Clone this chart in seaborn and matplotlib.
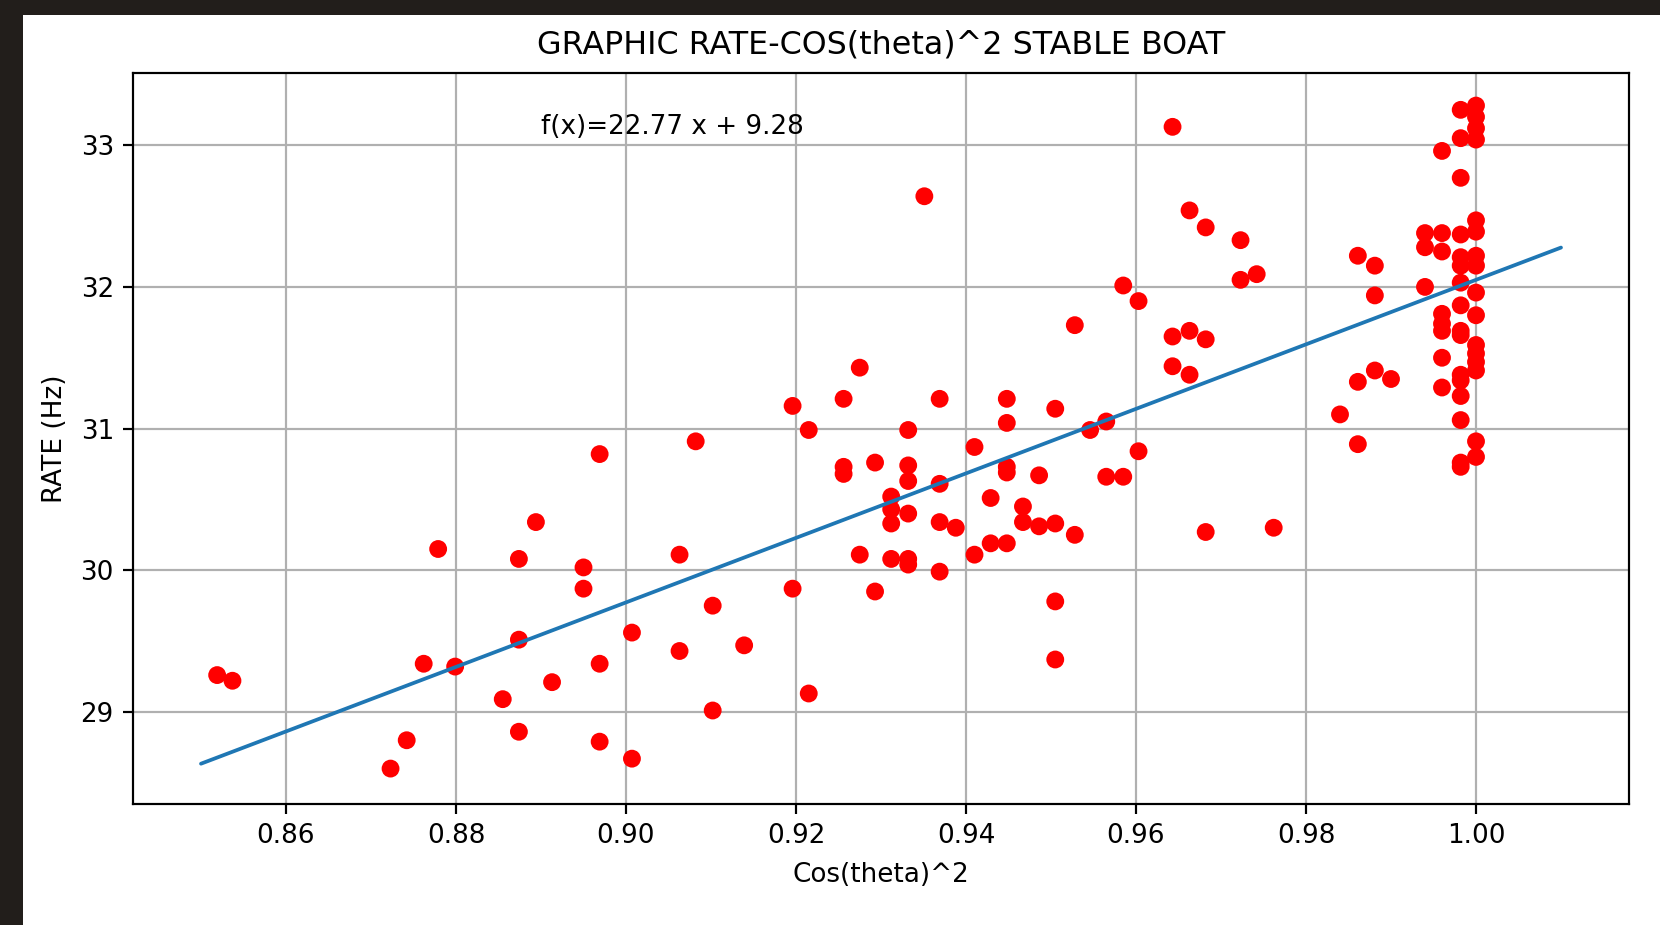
import numpy as np
import pandas as pd
import matplotlib
matplotlib.use("Agg")
import matplotlib.pyplot as plt
from matplotlib.patches import Rectangle
import seaborn as sns

# Measured points: cos^2(theta) against boat rate
cos2 = [
    0.8519, 0.8537, 0.8723, 0.8742, 0.8762, 0.8779, 0.8799, 0.8855, 0.8874, 0.8874,
    0.8874, 0.8894, 0.8913, 0.8950, 0.8950, 0.8969, 0.8969, 0.8969, 0.9007, 0.9007,
    0.9063, 0.9063, 0.9082, 0.9102, 0.9102, 0.9139, 0.9196, 0.9196, 0.9215, 0.9215,
    0.9256, 0.9256, 0.9256, 0.9275, 0.9275, 0.9293, 0.9293, 0.9312, 0.9312, 0.9312,
    0.9312, 0.9332, 0.9332, 0.9332, 0.9332, 0.9332, 0.9332, 0.9351, 0.9369, 0.9369,
    0.9369, 0.9369, 0.9388, 0.9410, 0.9410, 0.9429, 0.9429, 0.9448, 0.9448, 0.9448,
    0.9448, 0.9448, 0.9467, 0.9467, 0.9486, 0.9486, 0.9505, 0.9505, 0.9505, 0.9505,
    0.9528, 0.9528, 0.9546, 0.9565, 0.9565, 0.9585, 0.9585, 0.9603, 0.9603, 0.9643,
    0.9643, 0.9643, 0.9663, 0.9663, 0.9663, 0.9682, 0.9682, 0.9682, 0.9723, 0.9723,
    0.9742, 0.9762, 0.9840, 0.9861, 0.9861, 0.9861, 0.9881, 0.9881, 0.9881, 0.9900,
    0.9940, 0.9940, 0.9940,
    0.9960, 0.9960, 0.9960, 0.9960, 0.9960, 0.9960, 0.9960, 0.9960,
    0.9982, 0.9982, 0.9982, 0.9982, 0.9982, 0.9982, 0.9982, 0.9982,
    0.9982, 0.9982, 0.9982, 0.9982, 0.9982, 0.9982, 0.9982, 0.9982,
    1.0000, 1.0000, 1.0000, 1.0000, 1.0000, 1.0000, 1.0000, 1.0000,
    1.0000, 1.0000, 1.0000, 1.0000, 1.0000, 1.0000, 1.0000, 1.0000,
]
rate_hz = [
    29.26, 29.22, 28.60, 28.80, 29.34, 30.15, 29.32, 29.09, 30.08, 29.51,
    28.86, 30.34, 29.21, 30.02, 29.87, 30.82, 29.34, 28.79, 29.56, 28.67,
    30.11, 29.43, 30.91, 29.75, 29.01, 29.47, 31.16, 29.87, 30.99, 29.13,
    31.21, 30.73, 30.68, 31.43, 30.11, 30.76, 29.85, 30.52, 30.43, 30.33,
    30.08, 30.99, 30.74, 30.63, 30.40, 30.08, 30.04, 32.64, 31.21, 30.61,
    30.34, 29.99, 30.30, 30.87, 30.11, 30.51, 30.19, 31.21, 31.04, 30.73,
    30.69, 30.19, 30.45, 30.34, 30.67, 30.31, 31.14, 30.33, 29.78, 29.37,
    31.73, 30.25, 30.99, 31.05, 30.66, 32.01, 30.66, 31.90, 30.84, 33.13,
    31.65, 31.44, 32.54, 31.69, 31.38, 32.42, 31.63, 30.27, 32.33, 32.05,
    32.09, 30.30, 31.10, 32.22, 31.33, 30.89, 32.15, 31.94, 31.41, 31.35,
    32.38, 32.28, 32.00,
    32.96, 32.38, 32.25, 31.81, 31.74, 31.69, 31.50, 31.29,
    33.25, 33.05, 32.77, 32.37, 32.21, 32.15, 32.03, 31.87,
    31.69, 31.66, 31.38, 31.34, 31.23, 31.06, 30.76, 30.73,
    33.28, 33.20, 33.12, 33.04, 32.47, 32.39, 32.22, 32.15,
    31.96, 31.80, 31.59, 31.53, 31.47, 31.41, 30.91, 30.80,
]

# Linear fit coefficients and the span it is drawn over
slope = 22.77
intercept = 9.28
fit_span = [0.85, 1.01]

points = pd.DataFrame({"cos2": cos2, "rate": rate_hz})
fit_x = np.array(fit_span)
fit = pd.DataFrame({"cos2": fit_x, "rate": slope * fit_x + intercept})

sns.set_theme(style="white")
plt.rcParams["font.family"] = ["DejaVu Sans"]

k = 1.97  # scale from default point sizes
fig = plt.figure(figsize=(16.6, 9.25), dpi=100, facecolor="#221e1b")
page = Rectangle((23 / 1660, 0), 1 - 23 / 1660, 1 - 15 / 925,
                 transform=fig.transFigure, facecolor="white",
                 edgecolor="none", zorder=-10)
fig.add_artist(page)
ax = fig.add_axes([133 / 1660, (925 - 804) / 925, (1629 - 133) / 1660, (804 - 73) / 925])
ax.set_facecolor("white")

sns.scatterplot(data=points, x="cos2", y="rate", ax=ax, color="red",
                s=165, edgecolor="none", linewidth=0, zorder=3)
sns.lineplot(data=fit, x="cos2", y="rate", ax=ax, color="#1f77b4",
             linewidth=2.7, zorder=4)

ax.set_xlim(0.842, 1.018)
ax.set_ylim(28.35, 33.51)
ax.set_xticks([0.86, 0.88, 0.90, 0.92, 0.94, 0.96, 0.98, 1.00])
ax.set_xticklabels(["0.86", "0.88", "0.90", "0.92", "0.94", "0.96", "0.98", "1.00"])
ax.set_yticks([29, 30, 31, 32, 33])

ax.grid(True, color="#b0b0b0", linewidth=0.8 * k)
ax.set_axisbelow(True)
for sp in ax.spines.values():
    sp.set_color("black")
    sp.set_linewidth(0.8 * k)
ax.tick_params(axis="both", which="major", direction="out", length=3.5 * k,
               width=0.8 * k, pad=3.5 * k, labelsize=9.6 * k, colors="black",
               bottom=True, left=True)

ax.set_title("GRAPHIC RATE-COS(theta)^2 STABLE BOAT", fontsize=11.6 * k, pad=6 * k + 2,
             color="black")
ax.set_xlabel("Cos(theta)^2", fontsize=9.6 * k, labelpad=3.5 * k + 2, color="black")
ax.set_ylabel("RATE (Hz)", fontsize=9.6 * k, labelpad=3.5 * k + 2, color="black")
ax.text(0.89, 33.08, f"f(x)={slope} x + {intercept}", fontsize=9.6 * k, color="black")

fig.savefig("out.png", dpi=100, facecolor=fig.get_facecolor())
